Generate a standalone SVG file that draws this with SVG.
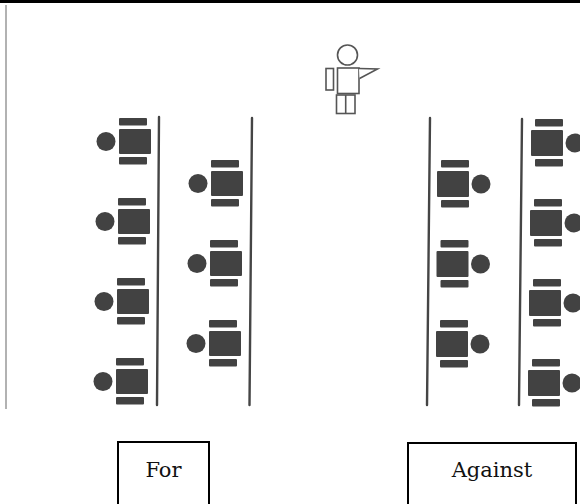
<svg xmlns="http://www.w3.org/2000/svg" xmlns:xlink="http://www.w3.org/1999/xlink" width="580" height="504" viewBox="0 0 580 504">
  <style>
    .aisle { stroke: #454545; stroke-width: 2.4; fill: none; stroke-linecap: round; }
    .figure { stroke: #555; stroke-width: 1.6; fill: #fff; }
    .frame { stroke: #000; stroke-width: 2; fill: #fff; }
    .label { font-family: "DejaVu Serif", "Liberation Serif", serif; font-size: 21px; fill: #111; text-anchor: middle; }
    .ink { fill: #424242; }
  </style>
  <defs>
    <!-- desk with chairs above and below, student on the left -->
    <g id="deskL" class="ink">
      <rect x="0" y="-11" width="28" height="7.5" rx="1"/>
      <rect x="0" y="0" width="32" height="25" rx="1"/>
      <rect x="0" y="28" width="28" height="7.5" rx="1"/>
      <circle cx="-13" cy="12.5" r="9.5"/>
    </g>
    <!-- desk with chairs above and below, student on the right -->
    <g id="deskR" class="ink">
      <rect x="4" y="-11" width="28" height="7.5" rx="1"/>
      <rect x="0" y="0" width="32" height="26" rx="1"/>
      <rect x="4" y="29" width="28" height="7.5" rx="1"/>
      <circle cx="44" cy="13" r="9.5"/>
    </g>
  </defs>

  <rect width="580" height="504" fill="#fff"/>

  <!-- page edges -->
  <rect x="0" y="0" width="580" height="3" fill="#000"/>
  <line x1="6" y1="5" x2="6" y2="409" stroke="#999" stroke-width="1.5"/>

  <!-- speaker at the front -->
  <g id="speaker" class="figure">
    <circle cx="347.5" cy="55" r="10"/>
    <rect x="326" y="68.5" width="7.5" height="21.5"/>
    <rect x="337.5" y="68" width="21.5" height="25.5"/>
    <path d="M359 68.5 L377.5 69 L359.5 78.5"/>
    <rect x="336.5" y="95" width="18.5" height="18.5"/>
    <line x1="345.7" y1="95" x2="345.7" y2="113.5"/>
  </g>

  <!-- aisle lines -->
  <g id="connectors">
    <line class="aisle" x1="159" y1="117" x2="157" y2="405"/>
    <line class="aisle" x1="252" y1="118" x2="249.5" y2="405"/>
    <line class="aisle" x1="430" y1="118" x2="427" y2="405"/>
    <line class="aisle" x1="522" y1="119" x2="519" y2="405"/>
  </g>

  <!-- "For" side, outer row -->
  <g id="for-outer-1"><use xlink:href="#deskL" x="119" y="129"/></g>
  <g id="for-outer-2"><use xlink:href="#deskL" x="118" y="209"/></g>
  <g id="for-outer-3"><use xlink:href="#deskL" x="117" y="289"/></g>
  <g id="for-outer-4"><use xlink:href="#deskL" x="116" y="369"/></g>

  <!-- "For" side, inner row -->
  <g id="for-inner-1"><use xlink:href="#deskL" x="211" y="171"/></g>
  <g id="for-inner-2"><use xlink:href="#deskL" x="210" y="251"/></g>
  <g id="for-inner-3"><use xlink:href="#deskL" x="209" y="331"/></g>

  <!-- "Against" side, inner row -->
  <g id="against-inner-1"><use xlink:href="#deskR" x="437" y="171"/></g>
  <g id="against-inner-2"><use xlink:href="#deskR" x="436.5" y="251"/></g>
  <g id="against-inner-3"><use xlink:href="#deskR" x="436" y="331"/></g>

  <!-- "Against" side, outer row -->
  <g id="against-outer-1"><use xlink:href="#deskR" x="531" y="130"/></g>
  <g id="against-outer-2"><use xlink:href="#deskR" x="530" y="210"/></g>
  <g id="against-outer-3"><use xlink:href="#deskR" x="529" y="290"/></g>
  <g id="against-outer-4"><use xlink:href="#deskR" x="528" y="370"/></g>

  <!-- side labels -->
  <g id="for-label">
    <rect class="frame" x="118" y="442" width="91" height="70"/>
    <text class="label" x="163.5" y="477">For</text>
  </g>
  <g id="against-label">
    <rect class="frame" x="408" y="443" width="168" height="70"/>
    <text class="label" x="492" y="477">Against</text>
  </g>
</svg>
